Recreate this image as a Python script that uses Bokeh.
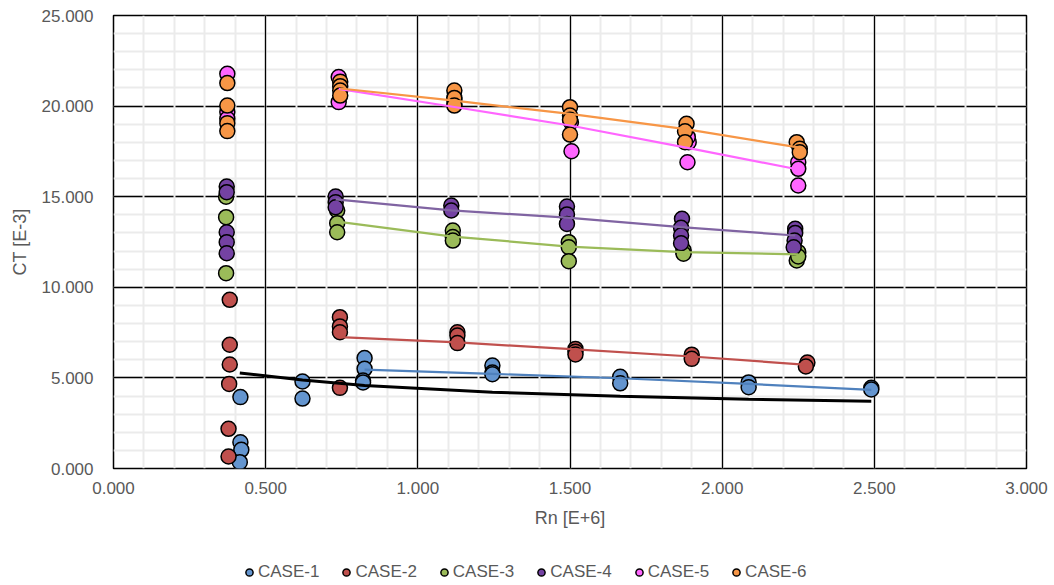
from bokeh.plotting import figure
from bokeh.layouts import column
from bokeh.models import Range1d, SingleIntervalTicker, NumeralTickFormatter, Legend
from bokeh.embed import file_html
from bokeh.resources import INLINE

# ---------------- data ----------------
case_names = ["CASE-1", "CASE-2", "CASE-3", "CASE-4", "CASE-5", "CASE-6"]

case1_x = [0.417, 0.417, 0.42, 0.415, 0.621, 0.621, 0.825, 0.825, 0.82, 0.82,
           1.245, 1.245, 1.245, 1.665, 1.665, 2.087, 2.087, 2.49, 2.49]
case1_y = [3.94, 1.45, 1.03, 0.35, 4.80, 3.86, 6.10, 5.50, 4.85, 4.75,
           5.68, 5.30, 5.20, 5.06, 4.70, 4.75, 4.49, 4.45, 4.36]

case2_x = [0.382, 0.382, 0.382, 0.38, 0.378, 0.378, 0.744, 0.744, 0.744, 0.744,
           1.13, 1.13, 1.13, 1.518, 1.518, 1.518, 1.9, 1.9, 2.28, 2.275]
case2_y = [9.31, 6.83, 5.74, 4.67, 2.19, 0.66, 8.35, 7.84, 7.52, 4.45,
           7.52, 7.34, 6.92, 6.60, 6.45, 6.29, 6.28, 6.05, 5.85, 5.63]

case3_x = [0.37, 0.37, 0.37, 0.735, 0.735, 0.735, 1.115, 1.115, 1.115,
           1.496, 1.496, 1.496, 1.873, 1.873, 1.873, 2.25, 2.245, 2.25]
case3_y = [15.0, 13.87, 10.78, 14.24, 13.54, 13.04, 13.13, 12.77, 12.58,
           12.49, 12.21, 11.44, 11.94, 12.05, 11.85, 11.94, 11.48, 11.7]

case4_x = [0.372, 0.372, 0.372, 0.372, 0.372, 0.73, 0.73, 0.73, 1.11, 1.11,
           1.49, 1.49, 1.49, 1.868, 1.865, 1.865, 1.865, 2.24, 2.24, 2.238, 2.235]
case4_y = [15.56, 15.25, 13.04, 12.49, 11.88, 15.01, 14.7, 14.42, 14.51, 14.24,
           14.46, 14.02, 13.50, 13.78, 13.28, 12.86, 12.43, 13.23, 13.0, 12.58, 12.21]

case5_x = [0.374, 0.374, 0.374, 0.74, 0.74, 1.12, 1.12, 1.503, 1.505,
           1.89, 1.887, 1.886, 2.25, 2.25, 2.25]
case5_y = [21.78, 19.67, 19.3, 21.6, 20.22, 20.35, 20.1, 19.11, 17.51,
           18.01, 18.3, 16.90, 16.90, 16.54, 15.62]

case6_x = [0.374, 0.374, 0.374, 0.374, 0.745, 0.745, 0.745, 0.745, 1.12, 1.12, 1.12,
           1.5, 1.5, 1.5, 1.5, 1.883, 1.878, 1.878, 2.245, 2.255, 2.255]
case6_y = [21.27, 20.03, 19.06, 18.62, 21.35, 21.1, 20.86, 20.58, 20.86, 20.45, 20.03,
           19.94, 19.48, 19.25, 18.43, 19.02, 18.61, 18.01, 18.01, 17.64, 17.45]

# trend lines
fit1_x = [0.825, 1.245, 1.665, 2.087, 2.49]
fit1_y = [5.46, 5.22, 4.98, 4.67, 4.34]
fit2_x = [0.744, 1.13, 1.518, 1.9, 2.28]
fit2_y = [7.25, 6.96, 6.57, 6.18, 5.72]
fit3_x = [0.735, 1.115, 1.496, 1.873, 2.25]
fit3_y = [13.62, 12.80, 12.25, 11.94, 11.82]
fit4_x = [0.73, 1.11, 1.49, 1.865, 2.24]
fit4_y = [14.85, 14.25, 13.84, 13.32, 12.86]
fit5_x = [0.74, 1.12, 1.5, 1.89, 2.25]
fit5_y = [20.95, 19.95, 18.93, 17.68, 16.50]
fit6_x = [0.745, 1.12, 1.5, 1.88, 2.25]
fit6_y = [20.97, 20.30, 19.57, 18.73, 17.72]

ref_x = [0.415, 0.621, 0.825, 1.245, 1.665, 2.087, 2.49]
ref_y = [5.27, 4.88, 4.58, 4.21, 3.99, 3.82, 3.71]

x_label = "Rn [E+6]"
y_label = "CT [E-3]"

# ---------------- styling ----------------
fills = ["#6495cf", "#c0504d", "#9bbb59", "#7442a3", "#ff66ff", "#f79646"]
line_cols = ["#4f81bd", "#c0504d", "#9bbb59", "#8064a2", "#ff66ff", "#f79646"]
FONT = "Liberation Sans"
GREY = "#595959"

p = figure(frame_width=913, frame_height=453,
           min_border_left=113, min_border_right=28,
           min_border_top=15, min_border_bottom=70,
           x_range=Range1d(0, 3), y_range=Range1d(0, 25),
           output_backend="svg", toolbar_location=None,
           background_fill_color="white", border_fill_color="white")

p.outline_line_color = "black"
p.outline_line_width = 1.5

p.xaxis.ticker = SingleIntervalTicker(interval=0.5, num_minor_ticks=5)
p.yaxis.ticker = SingleIntervalTicker(interval=5, num_minor_ticks=5)
p.xgrid.ticker = p.xaxis.ticker
p.ygrid.ticker = p.yaxis.ticker
for g in (p.xgrid, p.ygrid):
    g.grid_line_color = "black"
    g.grid_line_width = 1.3
    g.minor_grid_line_color = "#ebebeb"
    g.minor_grid_line_width = 2

for ax in (p.xaxis, p.yaxis):
    ax.formatter = NumeralTickFormatter(format="0.000")
    ax.axis_line_color = None
    ax.major_tick_line_color = None
    ax.minor_tick_line_color = None
    ax.major_tick_out = 0
    ax.major_tick_in = 0
    ax.minor_tick_out = 0
    ax.minor_tick_in = 0
    ax.major_label_text_font = FONT
    ax.major_label_text_font_size = "17px"
    ax.major_label_text_color = GREY
    ax.axis_label_text_font = FONT
    ax.axis_label_text_font_size = "18px"
    ax.axis_label_text_font_style = "normal"
    ax.axis_label_text_color = GREY

p.xaxis.axis_label = x_label
p.yaxis.axis_label = y_label
p.xaxis.major_label_standoff = 13
p.yaxis.major_label_standoff = 20
p.xaxis.axis_label_standoff = 11
p.yaxis.axis_label_standoff = 9

xs = [case1_x, case2_x, case3_x, case4_x, case5_x, case6_x]
ys = [case1_y, case2_y, case3_y, case4_y, case5_y, case6_y]
for name, x, y, c in zip(case_names, xs, ys, fills):
    p.scatter(x, y, size=15, marker="circle", fill_color=c,
              line_color="black", line_width=1.5)

fx = [fit1_x, fit2_x, fit3_x, fit4_x, fit5_x, fit6_x]
fy = [fit1_y, fit2_y, fit3_y, fit4_y, fit5_y, fit6_y]
for x, y, c in zip(fx, fy, line_cols):
    p.line(x, y, line_color=c, line_width=2.2)

p.line(ref_x, ref_y, line_color="black", line_width=3)

# draw horizontal grid first, vertical grid over it (as in the reference)
p.center = [p.ygrid[0], p.xgrid[0]] + [r for r in p.center if r not in (p.xgrid[0], p.ygrid[0])]

# ---------------- legend strip below the chart ----------------
# (its ranges keep the series' own points out of view; only the legend shows)
leg = figure(width=1054, height=47, min_border=0,
             x_range=Range1d(100, 101), y_range=Range1d(100, 101),
             output_backend="svg", toolbar_location=None,
             background_fill_color="white", border_fill_color="white")
leg.axis.visible = False
leg.grid.visible = False
leg.outline_line_color = None
items = []
for name, x, y, c in zip(case_names, xs, ys, fills):
    r = leg.scatter(x, y, size=15, marker="circle", fill_color=c,
                    line_color="black", line_width=1.5)
    items.append((name, [r]))

lg = Legend(items=items, orientation="horizontal", location=(127, 3),
            border_line_color=None, background_fill_alpha=0,
            padding=0, margin=0, spacing=18, label_standoff=0,
            glyph_width=18, glyph_height=18,
            label_text_font=FONT, label_text_font_size="17px",
            label_text_color=GREY)
leg.add_layout(lg, "center")

layout = column(p, leg, spacing=0)
open("out.html", "w").write(file_html(layout, INLINE))
